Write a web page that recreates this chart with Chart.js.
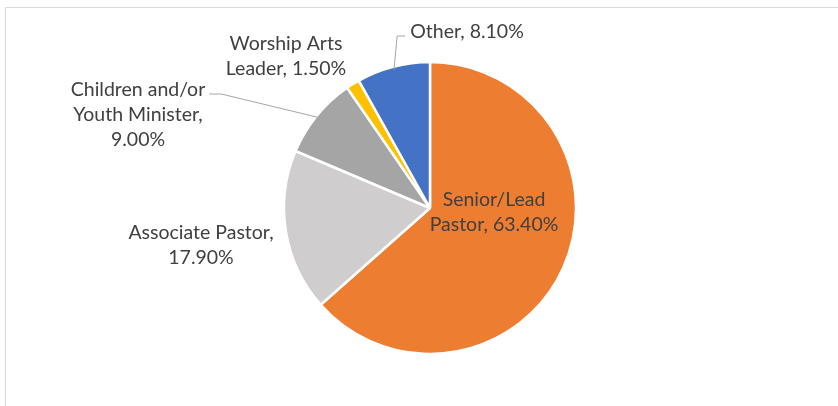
<!DOCTYPE html>
<html>
<head>
<meta charset="utf-8">
<script src="https://cdn.jsdelivr.net/npm/chart.js@4.4.0/dist/chart.umd.min.js"></script>
<style>
  html, body { margin: 0; padding: 0; background: #fff; }
  #myChart { display: block; }
</style>
</head>
<body>
<canvas id="myChart" width="838" height="406"></canvas>
<script>

var roles = ["Senior/Lead Pastor", "Associate Pastor", "Children and/or Youth Minister", "Worship Arts Leader", "Other"];
var shares = [63.4, 17.9, 9.0, 1.5, 8.1];
var sliceColors = ['#ED7D31', '#CFCDCD', '#A5A5A5', '#FFC000', '#4472C4'];

// how each role name wraps, and whether the percent sits on its own line
var nameLines = [["Senior/Lead", "Pastor"], ["Associate Pastor"], ["Children and/or", "Youth Minister"], ["Worship Arts", "Leader"], ["Other"]];
var pctOwnLine = [false, true, true, false, false];

// label block centre, offset from pie centre (first line)
var labelSpots = [
  { dx: 64, dy: -8 },
  { dx: -229, dy: 25 },
  { dx: -292, dy: -118, leader: 'right' },
  { dx: -144, dy: -164 },
  { dx: 37, dy: -176, leader: 'left' }
];

var FONT = '19.5px Lato, "Open Sans", sans-serif';
var LINE_H = 25;

function buildLines(i) {
  var pct = shares[i].toFixed(2) + '%';
  var lines = nameLines[i].slice();
  if (pctOwnLine[i]) {
    lines[lines.length - 1] += ',';
    lines.push(pct);
  } else {
    lines[lines.length - 1] += ', ' + pct;
  }
  return lines;
}

var framePlugin = {
  id: 'frame',
  beforeDraw: function(chart) {
    var ctx = chart.ctx;
    ctx.save();
    ctx.strokeStyle = '#D9D9D9';
    ctx.lineWidth = 1;
    ctx.beginPath();
    ctx.moveTo(5.5, 420);
    ctx.lineTo(5.5, 7.5);
    ctx.lineTo(850, 7.5);
    ctx.stroke();
    ctx.restore();
  }
};

var labelPlugin = {
  id: 'sliceLabels',
  afterDatasetsDraw: function(chart) {
    var ctx = chart.ctx;
    var arcs = chart.getDatasetMeta(0).data;
    ctx.save();
    ctx.font = FONT;
    ctx.fillStyle = '#404040';
    ctx.textAlign = 'center';
    ctx.textBaseline = 'middle';
    arcs.forEach(function(arc, i) {
      var p = arc.getProps(['x', 'y', 'startAngle', 'endAngle', 'outerRadius'], true);
      var spot = labelSpots[i];
      var cx = p.x + spot.dx;
      var cy = p.y + spot.dy;
      var lines = buildLines(i);
      var maxW = 0;
      lines.forEach(function(line, k) {
        ctx.fillText(line, cx, cy + k * LINE_H);
        var w = ctx.measureText(line).width;
        if (k === 0) maxW = w;
      });
      if (spot.leader) {
        var mid = (p.startAngle + p.endAngle) / 2;
        var ex = p.x + Math.cos(mid) * (p.outerRadius - 3);
        var ey = p.y + Math.sin(mid) * (p.outerRadius - 3);
        var sx, kx;
        if (spot.leader === 'right') {
          sx = cx + maxW / 2 + 4;
          kx = sx + 12;
        } else {
          sx = cx - maxW / 2 - 5;
          kx = sx - 8;
        }
        var sy = cy + 4;
        ctx.strokeStyle = '#A6A6A6';
        ctx.lineWidth = 1;
        ctx.beginPath();
        ctx.moveTo(sx, sy);
        ctx.lineTo(kx, sy);
        ctx.lineTo(ex, ey);
        ctx.stroke();
      }
    });
    ctx.restore();
  }
};

var ctx1 = document.getElementById('myChart').getContext('2d');
var myChart = new Chart(ctx1, {
  type: 'pie',
  data: {
    labels: roles,
    datasets: [{
      data: shares,
      backgroundColor: sliceColors,
      borderColor: '#FFFFFF',
      borderWidth: 2.5
    }]
  },
  options: {
    responsive: false,
    animation: false,
    radius: 146,
    layout: { padding: { left: 280, right: 258, top: 58, bottom: 48 } },
    plugins: {
      legend: { display: false },
      tooltip: { enabled: false }
    }
  },
  plugins: [framePlugin, labelPlugin]
});

</script>
</body>
</html>
